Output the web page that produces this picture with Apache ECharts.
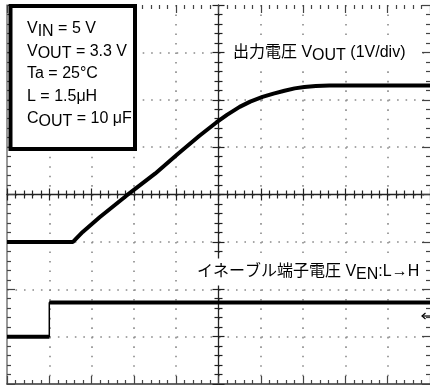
<!DOCTYPE html>
<html><head><meta charset="utf-8">
<script src="https://cdn.jsdelivr.net/npm/echarts@6.0.0/dist/echarts.min.js"></script>
<style>html,body{margin:0;padding:0;background:#fff}#c{width:430px;height:385px}</style>
</head><body><div id="c"></div>
<script>
// Time in screen divisions from left edge (10 divisions across)
const voutTime  = [0, 1.56, 1.79, 2.19, 2.83, 3.5, 4.03, 4.55, 4.95, 5.2, 5.5, 5.75, 6.04, 6.3, 6.56, 6.8, 7.03, 7.3, 7.62, 8.5, 10];
// Output voltage (V), 1 V/div
const voutVolts = [0, 0, 0.21, 0.52, 0.98, 1.44, 1.85, 2.24, 2.52, 2.68, 2.85, 2.96, 3.06, 3.13, 3.19, 3.24, 3.27, 3.29, 3.30, 3.30, 3.30];
// Enable pin trace (divisions above its ground marker)
const enTime  = [0, 1.0, 1.0, 10];
const enLevel = [0, 0, 0.72, 0.72];
const voltsPerDiv = 1;
const voutGroundDiv = -1;   // divisions from screen centre
const enGroundDiv = -3;

const boxLines = [
  [['n','V'],['s','IN'],['n',' = 5 V']],
  [['n','V'],['s','OUT'],['n',' = 3.3 V']],
  [['n','Ta = 25°C']],
  [['n','L = 1.5μH']],
  [['n','C'],['s','OUT'],['n',' = 10 μF']]
];
const label1 = [['n','出力電圧 V'],['s','OUT'],['n',' (1V/div)']];
const label2 = [['n','イネーブル端子電圧 V'],['s','EN'],['n',':L→H']];

const FONT = "'Liberation Sans','Noto Sans CJK JP',sans-serif";
const rich = {
  n: {fontSize: 16, fontFamily: FONT, color: '#000'},
  s: {fontSize: 16, fontFamily: FONT, color: '#000', padding: [5, 0, 0, 0]}
};
const toRich = parts => parts.map(p => '{' + p[0] + '|' + p[1] + '}').join('');

const dotColor = '#8a8a8a';
const tickColor = '#444';
function centerAxis(dim, inside, showLine) {
  return {
    type: 'value', min: dim === 'x' ? -5 : -4, max: dim === 'x' ? 5 : 4, interval: 1,
    position: dim === 'x' ? 'bottom' : 'left',
    axisLine: {show: showLine, onZero: true, onZeroAxisIndex: 0, lineStyle: {color: '#222', width: 1.3}},
    axisTick: {show: true, inside: inside, length: 6, lineStyle: {color: '#222', width: 1.2}},
    minorTick: {show: true, splitNumber: 5, length: 4, lineStyle: {color: '#222', width: 1.2}},
    axisLabel: {show: false}, splitLine: {show: false}
  };
}
function borderAxis(dim, pos, showLine, split) {
  const horiz = dim === 'x';
  return {
    type: 'value', min: horiz ? -5 : -4, max: horiz ? 5 : 4, interval: 1, position: pos,
    axisLine: {show: showLine, onZero: false, lineStyle: {color: horiz ? '#333' : '#777', width: 1.5}},
    axisTick: {show: true, inside: true, length: 8, lineStyle: {color: tickColor, width: 1.2}},
    minorTick: {show: true, splitNumber: 5, length: 4, lineStyle: {color: tickColor, width: 1.2}},
    axisLabel: {show: false},
    splitLine: {show: split, showMinLine: false, showMaxLine: false,
      lineStyle: {color: dotColor, width: 1.6, type: horiz ? [1.6, 7.88] : [1.6, 6.88]}},
    minorSplitLine: {show: false}
  };
}

const voutData = voutTime.map((t, i) => [t - 5, voutGroundDiv + voutVolts[i] / voltsPerDiv]);
const enFull = enTime.map((t, i) => [t - 5, enGroundDiv + enLevel[i]]);
const enThick = [];
enTime.forEach((t, i) => {
  if (i > 0 && t === enTime[i - 1]) enThick.push([t - 5, '-']);
  enThick.push([t - 5, enGroundDiv + enLevel[i]]);
});

const graphic = [
  {type: 'rect', z: 50, shape: {x: 10.5, y: 6, width: 124.5, height: 143},
   style: {fill: '#fff', stroke: '#000', lineWidth: 4}},
  ...boxLines.map((ln, i) => ({
    type: 'text', z: 51, x: 27, y: 29 + i * 22.4,
    style: {text: toRich(ln), rich: rich, align: 'left', verticalAlign: 'middle', font: '16px ' + FONT}
  })),
  {type: 'text', z: 51, x: 227, y: 53,
   style: {text: toRich(label1), rich: rich, align: 'left', verticalAlign: 'middle', font: '16px ' + FONT,
           backgroundColor: '#fff', padding: [3, 12, 3, 6]}},
  {type: 'text', z: 51, x: 191, y: 272,
   style: {text: toRich(label2), rich: rich, align: 'left', verticalAlign: 'middle', font: '16px ' + FONT,
           backgroundColor: '#fff', padding: [3, 4, 3, 6]}},
  {type: 'line', z: 52, shape: {x1: 422, y1: 316, x2: 431, y2: 316}, style: {stroke: '#000', lineWidth: 1.2}},
  {type: 'polyline', z: 52, shape: {points: [[425.5, 313], [422, 316], [425.5, 319]]}, style: {stroke: '#000', lineWidth: 1.2, fill: null}}
];

const chart = echarts.init(document.getElementById('c'), null, {renderer: 'canvas'});
chart.setOption({
  animation: false,
  backgroundColor: '#fff',
  grid: {left: 7, top: 5, width: 424, height: 379, containLabel: false},
  xAxis: [
    borderAxis('x', 'bottom', true, true),
    centerAxis('x', false, true),
    centerAxis('x', true, false),
    borderAxis('x', 'top', false, false)
  ],
  yAxis: [
    borderAxis('y', 'left', true, true),
    centerAxis('y', false, true),
    centerAxis('y', true, false),
    borderAxis('y', 'right', false, false)
  ],
  series: [
    {type: 'line', name: 'VOUT', data: voutData, showSymbol: false, smooth: false,
     lineStyle: {color: '#000', width: 4}, z: 5, xAxisIndex: 0, yAxisIndex: 0},
    {type: 'line', name: 'EN', data: enFull, showSymbol: false,
     lineStyle: {color: '#000', width: 1.5}, z: 5, xAxisIndex: 0, yAxisIndex: 0},
    {type: 'line', name: 'EN thick', data: enThick, showSymbol: false, connectNulls: false,
     lineStyle: {color: '#000', width: 4}, z: 5, xAxisIndex: 0, yAxisIndex: 0}
  ],
  graphic: graphic
});
</script></body></html>
